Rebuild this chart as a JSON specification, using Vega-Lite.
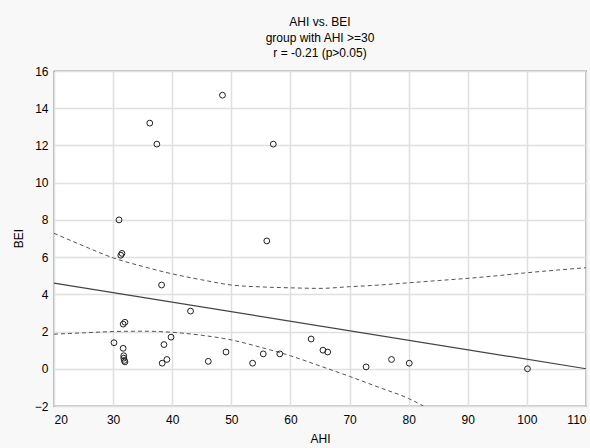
{
  "$schema": "https://vega.github.io/schema/vega-lite/v6.json",
  "autosize": "none",
  "padding": {"left": 54, "top": 71, "right": 4, "bottom": 42},
  "width": 532,
  "height": 335,
  "background": "#f8f8f8",
  "config": {
    "font": "Liberation Sans",
    "view": {"fill": "white", "stroke": "#222", "strokeWidth": 1.2},
    "axis": {
      "grid": true, "gridColor": "#e0e0e0", "gridWidth": 1.5,
      "domain": false, "ticks": false,
      "labelFont": "Liberation Sans", "labelFontSize": 12, "labelColor": "#000",
      "titleFont": "Liberation Sans", "titleFontSize": 12, "titleFontWeight": "normal", "titleColor": "#000"
    }
  },
  "title": {
    "text": ["AHI vs. BEI", "group with AHI >=30", "r = -0.21 (p>0.05)"],
    "font": "Liberation Sans", "fontSize": 12, "fontWeight": "normal", "color": "#000",
    "lineHeight": 15.5, "anchor": "middle", "offset": 5
  },
  "datasets": {
    "points": [
      {"AHI": 48.5, "BEI": 14.7}, {"AHI": 36.2, "BEI": 13.2}, {"AHI": 37.4, "BEI": 12.07},
      {"AHI": 57.1, "BEI": 12.07}, {"AHI": 31.0, "BEI": 8.0}, {"AHI": 56.0, "BEI": 6.87},
      {"AHI": 31.3, "BEI": 6.1}, {"AHI": 31.5, "BEI": 6.2}, {"AHI": 38.2, "BEI": 4.5},
      {"AHI": 43.1, "BEI": 3.1}, {"AHI": 31.7, "BEI": 2.4}, {"AHI": 32.0, "BEI": 2.5},
      {"AHI": 30.15, "BEI": 1.4}, {"AHI": 31.7, "BEI": 1.1}, {"AHI": 31.8, "BEI": 0.7},
      {"AHI": 31.8, "BEI": 0.57}, {"AHI": 31.9, "BEI": 0.45}, {"AHI": 32.0, "BEI": 0.37},
      {"AHI": 38.6, "BEI": 1.3}, {"AHI": 39.8, "BEI": 1.7}, {"AHI": 38.3, "BEI": 0.3},
      {"AHI": 39.1, "BEI": 0.5}, {"AHI": 46.1, "BEI": 0.4}, {"AHI": 49.1, "BEI": 0.9},
      {"AHI": 53.6, "BEI": 0.3}, {"AHI": 55.4, "BEI": 0.8}, {"AHI": 58.2, "BEI": 0.8},
      {"AHI": 63.5, "BEI": 1.6}, {"AHI": 65.5, "BEI": 1.0}, {"AHI": 66.3, "BEI": 0.9},
      {"AHI": 72.8, "BEI": 0.1}, {"AHI": 77.1, "BEI": 0.5}, {"AHI": 80.1, "BEI": 0.3},
      {"AHI": 100.1, "BEI": 0.0}
    ],
    "fit": [
      {"AHI": 20, "BEI": 4.6}, {"AHI": 110, "BEI": 0.0}
    ],
    "band": [
      {"side": "upper", "AHI": 20, "BEI": 7.28}, {"side": "upper", "AHI": 25, "BEI": 6.6},
      {"side": "upper", "AHI": 30, "BEI": 5.96}, {"side": "upper", "AHI": 35, "BEI": 5.5},
      {"side": "upper", "AHI": 40, "BEI": 5.1}, {"side": "upper", "AHI": 45, "BEI": 4.78},
      {"side": "upper", "AHI": 50, "BEI": 4.5}, {"side": "upper", "AHI": 55, "BEI": 4.4},
      {"side": "upper", "AHI": 60, "BEI": 4.35}, {"side": "upper", "AHI": 65, "BEI": 4.32},
      {"side": "upper", "AHI": 70, "BEI": 4.41}, {"side": "upper", "AHI": 75, "BEI": 4.5},
      {"side": "upper", "AHI": 80, "BEI": 4.62}, {"side": "upper", "AHI": 85, "BEI": 4.74},
      {"side": "upper", "AHI": 90, "BEI": 4.86}, {"side": "upper", "AHI": 95, "BEI": 5.0},
      {"side": "upper", "AHI": 100, "BEI": 5.16}, {"side": "upper", "AHI": 105, "BEI": 5.3},
      {"side": "upper", "AHI": 110, "BEI": 5.43},
      {"side": "lower", "AHI": 20, "BEI": 1.86}, {"side": "lower", "AHI": 25, "BEI": 1.93},
      {"side": "lower", "AHI": 30, "BEI": 2.0}, {"side": "lower", "AHI": 35, "BEI": 2.02},
      {"side": "lower", "AHI": 40, "BEI": 1.96}, {"side": "lower", "AHI": 45, "BEI": 1.8},
      {"side": "lower", "AHI": 50, "BEI": 1.55}, {"side": "lower", "AHI": 55, "BEI": 1.15},
      {"side": "lower", "AHI": 60, "BEI": 0.7}, {"side": "lower", "AHI": 65, "BEI": 0.15},
      {"side": "lower", "AHI": 70, "BEI": -0.41}, {"side": "lower", "AHI": 75, "BEI": -1.0},
      {"side": "lower", "AHI": 80, "BEI": -1.6}, {"side": "lower", "AHI": 82.5, "BEI": -2.0}
    ]
  },
  "encoding": {
    "x": {"field": "AHI", "type": "quantitative", "scale": {"domain": [20, 110], "nice": false},
          "axis": {"values": [20, 30, 40, 50, 60, 70, 80, 90, 100, 110], "labelPadding": 8, "title": "AHI", "titleY": 32, "titleX": 266, "titleAlign": "center", "titleBaseline": "middle"}},
    "y": {"field": "BEI", "type": "quantitative", "scale": {"domain": [-2, 16], "nice": false},
          "axis": {"values": [-2, 0, 2, 4, 6, 8, 10, 12, 14, 16], "labelPadding": 6, "title": "BEI", "titleX": -36, "titleY": 167, "titleAlign": "center", "titleBaseline": "middle"}}
  },
  "layer": [
    {
      "data": {"name": "band"},
      "mark": {"type": "line", "stroke": "#555", "strokeWidth": 1, "strokeDash": [4, 3], "interpolate": "monotone", "clip": true},
      "encoding": {"detail": {"field": "side"}}
    },
    {
      "data": {"name": "fit"},
      "mark": {"type": "line", "stroke": "#444", "strokeWidth": 1.2},
      "encoding": {}
    },
    {
      "data": {"name": "points"},
      "mark": {"type": "point", "shape": "circle", "filled": false, "stroke": "#222", "strokeWidth": 1, "size": 34, "opacity": 1}
    }
  ]
}
